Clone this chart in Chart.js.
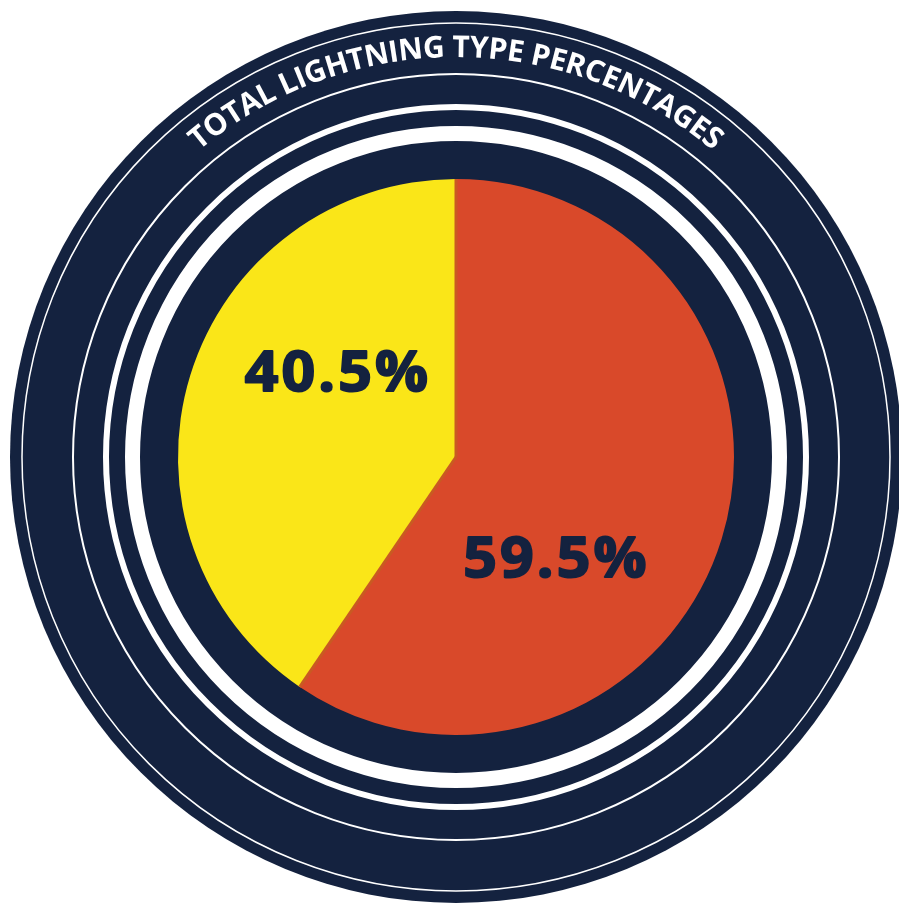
<!DOCTYPE html>
<html>
<head>
<meta charset="utf-8">
<script src="https://cdn.jsdelivr.net/npm/chart.js@4/dist/chart.umd.min.js"></script>
<style>
  html, body { margin: 0; padding: 0; background: #ffffff; }
  #wrap { width: 899px; height: 904px; }
</style>
</head>
<body>
<div id="wrap"><canvas id="chart" width="899" height="904"></canvas></div>
<script>
const titleText = "TOTAL LIGHTNING TYPE PERCENTAGES";
const categories = ["Type A", "Type B"];
const percentages = [59.5, 40.5];
const sliceColors = ["#d9492a", "#fae618"];

const NAVY = "#14223f";

// navy disc with the white rings and the curved heading behind the pie
const ringPlugin = {
  id: "rings",
  beforeDatasetsDraw(chart) {
    const arc = chart.getDatasetMeta(0).data[0];
    const cx = arc.x, cy = arc.y;
    const ctx = chart.ctx;
    ctx.save();
    ctx.fillStyle = NAVY;
    ctx.beginPath();
    ctx.arc(cx, cy, 446, 0, Math.PI * 2);
    ctx.fill();

    ctx.strokeStyle = "#ffffff";
    [[434, 1.5], [383, 2], [350, 6], [323.5, 15]].forEach(([r, w]) => {
      ctx.lineWidth = w;
      ctx.beginPath();
      ctx.arc(cx, cy, r, 0, Math.PI * 2);
      ctx.stroke();
    });

    // heading set along an arc over the top
    ctx.font = "bold 30px 'Open Sans'";
    ctx.fillStyle = "#ffffff";
    ctx.textAlign = "center";
    ctx.textBaseline = "alphabetic";
    const rb = 400;
    const span = 80 * Math.PI / 180 * rb;
    const chars = titleText.split("");
    const widths = chars.map(c => ctx.measureText(c).width);
    const total = widths.reduce((a, b) => a + b, 0);
    const gap = (span - total) / (chars.length - 1);
    let pos = -span / 2;
    chars.forEach((c, i) => {
      const a = (pos + widths[i] / 2) / rb;
      ctx.save();
      ctx.translate(cx, cy);
      ctx.rotate(a);
      ctx.fillText(c, 0, -rb);
      ctx.restore();
      pos += widths[i] + gap;
    });
    ctx.restore();
  }
};

// slice seams and the percentage figures inside each slice
const labelPlugin = {
  id: "sliceLabels",
  afterDatasetsDraw(chart) {
    const meta = chart.getDatasetMeta(0);
    const ctx = chart.ctx;
    ctx.save();

    const first = meta.data[0];
    ctx.strokeStyle = "#c95a22";
    ctx.lineWidth = 3;
    [first.startAngle, first.endAngle].forEach(a => {
      ctx.beginPath();
      ctx.moveTo(first.x, first.y);
      ctx.lineTo(first.x + Math.cos(a) * first.outerRadius, first.y + Math.sin(a) * first.outerRadius);
      ctx.stroke();
    });

    const spots = [[135.8, 0.51], [305, 0.525]];
    ctx.font = "bold 56px 'Open Sans'";
    ctx.letterSpacing = "3px";
    ctx.fillStyle = NAVY;
    ctx.strokeStyle = NAVY;
    ctx.lineWidth = 2;
    ctx.lineJoin = "round";
    ctx.textAlign = "center";
    ctx.textBaseline = "middle";
    meta.data.forEach((arc, i) => {
      const t = spots[i][0] * Math.PI / 180;
      const d = spots[i][1] * arc.outerRadius;
      const text = percentages[i] + "%";
      ctx.save();
      ctx.translate(arc.x + Math.sin(t) * d + 1.5, arc.y - Math.cos(t) * d + 2);
      ctx.scale(1.05, 1);
      ctx.fillText(text, 0, 0);
      ctx.strokeText(text, 0, 0);
      ctx.restore();
    });
    ctx.restore();
  }
};

new Chart(document.getElementById("chart"), {
  type: "pie",
  data: {
    labels: categories,
    datasets: [{
      data: percentages,
      backgroundColor: sliceColors,
      borderWidth: 0,
      hoverOffset: 0,
      offset: 0
    }]
  },
  options: {
    responsive: false,
    animation: false,
    events: [],
    layout: { padding: { left: 178, right: 165, top: 179, bottom: 169 } },
    plugins: {
      legend: { display: false },
      tooltip: { enabled: false }
    }
  },
  plugins: [ringPlugin, labelPlugin]
});
</script>
</body>
</html>
